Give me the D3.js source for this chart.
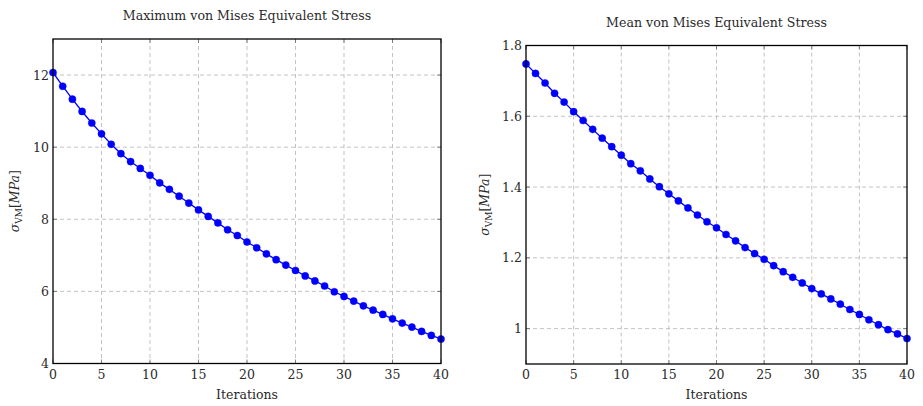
<!DOCTYPE html>
<html>
<head>
<meta charset="utf-8">
<script src="https://cdn.jsdelivr.net/npm/d3@7"></script>
<style>
  html, body { margin: 0; padding: 0; background: #fff; }
</style>
</head>
<body>
<svg id="chart" width="923" height="406"></svg>
<script>
// Iteration index shared by both panels
const iterations = d3.range(0, 41);

// Maximum von Mises equivalent stress per iteration [MPa]
const maxStress = [
  12.07, 11.69, 11.33, 10.99, 10.67, 10.37, 10.08, 9.82, 9.60, 9.41,
  9.22, 9.01, 8.83, 8.64, 8.45, 8.26, 8.08, 7.90, 7.71, 7.55,
  7.37, 7.21, 7.04, 6.88, 6.73, 6.58, 6.43, 6.29, 6.15, 5.99,
  5.86, 5.73, 5.60, 5.48, 5.36, 5.24, 5.12, 5.01, 4.89, 4.78,
  4.68
];

// Mean von Mises equivalent stress per iteration [MPa]
const meanStress = [
  1.748, 1.721, 1.694, 1.665, 1.640, 1.613, 1.588, 1.563, 1.538, 1.514,
  1.490, 1.466, 1.446, 1.423, 1.401, 1.381, 1.361, 1.341, 1.321, 1.302,
  1.285, 1.266, 1.248, 1.229, 1.212, 1.196, 1.178, 1.161, 1.145, 1.129,
  1.113, 1.098, 1.084, 1.069, 1.054, 1.040, 1.025, 1.011, 0.997, 0.985,
  0.972
];

const xTicks = [0, 5, 10, 15, 20, 25, 30, 35, 40];
const maxYTicks = [4, 6, 8, 10, 12];
const meanYTicks = [1, 1.2, 1.4, 1.6, 1.8];

const FONT = "'DejaVu Serif', 'Liberation Serif', serif";
const svg = d3.select("#chart");

function panel(opts) {
  const { left, right, top, bottom, yDomain, yTicks, yFmt, values, title, titleY, yLabelX } = opts;
  const x = d3.scaleLinear().domain([0, 40]).range([left, right]);
  const y = d3.scaleLinear().domain(yDomain).range([bottom, top]);
  const g = svg.append("g").attr("font-family", FONT).attr("fill", "#2a2a2a");

  // dashed grid
  g.append("g").selectAll("line").data(xTicks.slice(1, -1)).join("line")
    .attr("x1", d => x(d)).attr("x2", d => x(d)).attr("y1", top).attr("y2", bottom)
    .attr("stroke", "#b4b4b4").attr("stroke-width", 0.8).attr("stroke-dasharray", "4,3");
  g.append("g").selectAll("line").data(yTicks.filter(d => d > yDomain[0] && d < yDomain[1])).join("line")
    .attr("x1", left).attr("x2", right).attr("y1", d => y(d)).attr("y2", d => y(d))
    .attr("stroke", "#b4b4b4").attr("stroke-width", 0.8).attr("stroke-dasharray", "4,3");

  // inward tick marks on all four sides
  const tk = 4;
  const tickG = g.append("g").attr("stroke", "#666").attr("stroke-width", 0.8);
  xTicks.forEach(d => {
    tickG.append("line").attr("x1", x(d)).attr("x2", x(d)).attr("y1", bottom).attr("y2", bottom - tk);
    tickG.append("line").attr("x1", x(d)).attr("x2", x(d)).attr("y1", top).attr("y2", top + tk);
  });
  yTicks.forEach(d => {
    tickG.append("line").attr("x1", left).attr("x2", left + tk).attr("y1", y(d)).attr("y2", y(d));
    tickG.append("line").attr("x1", right).attr("x2", right - tk).attr("y1", y(d)).attr("y2", y(d));
  });

  // tick labels
  g.append("g").selectAll("text").data(xTicks).join("text")
    .attr("x", d => x(d)).attr("y", bottom + 15)
    .attr("text-anchor", "middle").attr("font-size", 12.5).text(d => d);
  g.append("g").selectAll("text").data(yTicks).join("text")
    .attr("x", left - 4).attr("y", d => y(d) + 4.5)
    .attr("text-anchor", "end").attr("font-size", 12.5).text(yFmt);

  // series line and markers
  const line = d3.line().x((d, i) => x(iterations[i])).y(d => y(d));
  g.append("path").datum(values).attr("d", line)
    .attr("fill", "none").attr("stroke", "#0000ff").attr("stroke-width", 1.3);
  g.append("g").selectAll("circle").data(values).join("circle")
    .attr("cx", (d, i) => x(iterations[i])).attr("cy", d => y(d)).attr("r", 3.6)
    .attr("fill", "#0000ff").attr("stroke", "#0000ff").attr("stroke-width", 0.4);

  // frame
  g.append("rect").attr("x", left).attr("y", top).attr("width", right - left).attr("height", bottom - top)
    .attr("fill", "none").attr("stroke", "#000").attr("stroke-width", 1.3);

  // title
  g.append("text").attr("x", (left + right) / 2).attr("y", titleY)
    .attr("text-anchor", "middle").attr("font-size", 12.6).text(title);

  // x-axis label
  g.append("text").attr("x", (left + right) / 2).attr("y", bottom + 35)
    .attr("text-anchor", "middle").attr("font-size", 12.5).text("Iterations");

  // y-axis label: σ_VM[MPa]
  const cy = (top + bottom) / 2;
  const yl = g.append("text").attr("transform", `translate(${yLabelX},${cy}) rotate(-90)`)
    .attr("text-anchor", "middle").attr("font-size", 12.5);
  yl.append("tspan").attr("font-style", "italic").text("σ");
  yl.append("tspan").attr("font-size", 9).attr("dy", 3).text("VM");
  yl.append("tspan").attr("dy", -3).text("[");
  yl.append("tspan").attr("font-style", "italic").text("MPa");
  yl.append("tspan").text("]");
}

panel({
  left: 53, right: 441, top: 39, bottom: 363.5,
  yDomain: [4, 13], yTicks: maxYTicks, yFmt: d => d,
  values: maxStress, title: "Maximum von Mises Equivalent Stress", titleY: 20, yLabelX: 19
});

panel({
  left: 526, right: 907, top: 45.5, bottom: 364,
  yDomain: [0.9, 1.8], yTicks: meanYTicks, yFmt: d => d3.format("~g")(d),
  values: meanStress, title: "Mean von Mises Equivalent Stress", titleY: 27, yLabelX: 489
});
</script>
</body>
</html>
